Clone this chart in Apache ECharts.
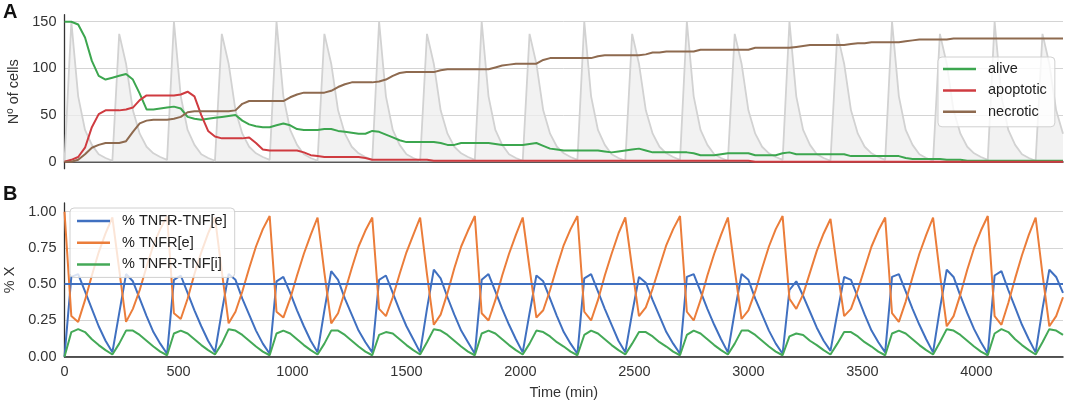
<!DOCTYPE html>
<html>
<head>
    <meta charset="utf-8">
    <title>TNF pulses</title>
    <script src="https://cdn.jsdelivr.net/npm/echarts@6/dist/echarts.min.js"></script>
    <style>
        html, body { margin: 0; padding: 0; background: #fff; }
        #chart { width: 1065px; height: 403px; }
    </style>
</head>
<body>
<div id="chart"></div>
<script type="text/javascript">
// sampling times (min), one row = 450 min
var times = [
    0, 30, 60, 90, 120, 150, 180, 210, 240, 270, 300, 330, 360, 390, 420,
    450, 480, 510, 540, 570, 600, 630, 660, 690, 720, 750, 780, 810, 840, 870,
    900, 930, 960, 990, 1020, 1050, 1080, 1110, 1140, 1170, 1200, 1230, 1260, 1290, 1320,
    1350, 1380, 1410, 1440, 1470, 1500, 1530, 1560, 1590, 1620, 1650, 1680, 1710, 1740, 1770,
    1800, 1830, 1860, 1890, 1920, 1950, 1980, 2010, 2040, 2070, 2100, 2130, 2160, 2190, 2220,
    2250, 2280, 2310, 2340, 2370, 2400, 2430, 2460, 2490, 2520, 2550, 2580, 2610, 2640, 2670,
    2700, 2730, 2760, 2790, 2820, 2850, 2880, 2910, 2940, 2970, 3000, 3030, 3060, 3090, 3120,
    3150, 3180, 3210, 3240, 3270, 3300, 3330, 3360, 3390, 3420, 3450, 3480, 3510, 3540, 3570,
    3600, 3630, 3660, 3690, 3720, 3750, 3780, 3810, 3840, 3870, 3900, 3930, 3960, 3990, 4020,
    4050, 4080, 4110, 4140, 4170, 4200, 4230, 4260, 4290, 4320, 4350, 4380
];

// panel A: number of cells
var alive = [
    150, 150, 147, 133, 108, 92, 88, 90, 92, 94, 88, 73, 56, 56, 57,
    58, 59, 57, 48, 46, 45, 46, 47, 48, 49, 50, 44, 40, 38, 37,
    37, 39, 41, 39, 35, 34, 34, 34, 35, 35, 33, 32, 31, 30, 30,
    33, 32, 29, 26, 23, 21, 21, 21, 21, 21, 20, 18, 18, 20, 20,
    20, 20, 20, 19, 18, 18, 18, 18, 19, 20, 17, 14, 13, 12, 12,
    12, 12, 12, 12, 11, 10, 11, 12, 13, 14, 12, 10, 10, 10, 10,
    10, 10, 9, 7, 7, 7, 8, 9, 9, 9, 9, 7, 7, 7, 7,
    9, 10, 8, 8, 8, 8, 8, 8, 8, 8, 6, 6, 6, 6, 6,
    6, 6, 6, 4, 3, 3, 3, 3, 3, 2, 2, 2, 1, 1, 1,
    1, 1, 1, 1, 1, 1, 1, 1, 1, 1, 1, 1
];
var apoptotic = [
    0, 2, 5, 15, 37, 51, 55, 55, 55, 56, 58, 66, 71, 71, 71,
    71, 71, 72, 75, 70, 50, 33, 27, 25, 25, 25, 25, 26, 20, 13,
    12, 12, 12, 12, 12, 10, 7, 6, 5, 5, 5, 5, 5, 5, 4,
    2, 2, 2, 2, 2, 2, 2, 2, 2, 1, 1, 1, 1, 1, 1,
    1, 1, 1, 1, 1, 1, 1, 1, 1, 1, 1, 1, 1, 1, 1,
    1, 1, 1, 1, 1, 1, 1, 1, 1, 1, 1, 1, 1, 1, 1,
    1, 1, 1, 1, 1, 1, 1, 1, 1, 1, 1, 0, 0, 0, 0,
    0, 0, 0, 0, 0, 0, 0, 0, 0, 0, 0, 0, 0, 0, 0,
    0, 0, 0, 0, 0, 0, 0, 0, 0, 0, 0, 0, 0, 0, 0,
    0, 0, 0, 0, 0, 0, 0, 0, 0, 0, 0, 0
];
var necrotic = [
    0, 0, 2, 8, 15, 18, 20, 20, 20, 22, 32, 41, 44, 45, 45,
    45, 46, 48, 53, 54, 54, 54, 54, 54, 54, 55, 62, 65, 65, 65,
    65, 65, 65, 69, 72, 74, 74, 74, 74, 76, 80, 83, 85, 85, 85,
    85, 86, 88, 92, 95, 96, 96, 96, 96, 96, 98, 99, 99, 99, 99,
    99, 99, 99, 101, 103, 104, 105, 105, 105, 105, 109, 111, 111, 111, 111,
    111, 111, 111, 113, 114, 114, 114, 114, 114, 114, 115, 117, 117, 118, 118,
    118, 118, 118, 120, 120, 120, 120, 120, 120, 120, 120, 122, 122, 122, 122,
    122, 122, 123, 124, 125, 125, 125, 125, 125, 125, 126, 127, 127, 128, 128,
    128, 128, 128, 129, 130, 131, 131, 131, 131, 131, 132, 132, 132, 132, 132,
    132, 132, 132, 132, 132, 132, 132, 132, 132, 132, 132, 132
];
// grey TNF pulses drawn behind panel A (scaled to the cell axis)
var tnfPulse = [
    0, 150, 70, 34, 18, 8, 4, 1, 137, 105, 55, 30, 16, 9, 5,
    2, 150, 70, 34, 18, 8, 4, 1, 137, 105, 55, 30, 16, 9, 5,
    2, 150, 70, 34, 18, 8, 4, 1, 137, 105, 55, 30, 16, 9, 5,
    2, 150, 70, 34, 18, 8, 4, 1, 137, 105, 55, 30, 16, 9, 5,
    2, 150, 70, 34, 18, 8, 4, 1, 137, 105, 55, 30, 16, 9, 5,
    2, 150, 70, 34, 18, 8, 4, 1, 137, 105, 55, 30, 16, 9, 5,
    2, 150, 70, 34, 18, 8, 4, 1, 137, 105, 55, 30, 16, 9, 5,
    2, 150, 70, 34, 18, 8, 4, 1, 137, 105, 55, 30, 16, 9, 5,
    2, 150, 70, 34, 18, 8, 4, 1, 137, 105, 55, 30, 16, 9, 5,
    2, 150, 70, 34, 18, 8, 4, 1, 137, 105, 55, 30
];

// panel B: receptor fractions
var boundExt = [
    0.00, 0.55, 0.57, 0.45, 0.33, 0.21, 0.11, 0.03, 0.30, 0.57, 0.52, 0.40, 0.28, 0.17, 0.09,
    0.02, 0.53, 0.56, 0.44, 0.32, 0.21, 0.11, 0.03, 0.31, 0.57, 0.53, 0.40, 0.29, 0.18, 0.09,
    0.02, 0.52, 0.55, 0.44, 0.32, 0.21, 0.11, 0.03, 0.32, 0.59, 0.53, 0.40, 0.29, 0.18, 0.10,
    0.03, 0.53, 0.56, 0.44, 0.32, 0.21, 0.12, 0.03, 0.33, 0.60, 0.54, 0.41, 0.29, 0.18, 0.10,
    0.02, 0.53, 0.57, 0.45, 0.33, 0.22, 0.12, 0.03, 0.30, 0.56, 0.52, 0.40, 0.28, 0.17, 0.09,
    0.02, 0.54, 0.57, 0.45, 0.33, 0.22, 0.11, 0.03, 0.30, 0.55, 0.51, 0.39, 0.28, 0.17, 0.09,
    0.02, 0.55, 0.57, 0.45, 0.33, 0.22, 0.12, 0.03, 0.31, 0.57, 0.53, 0.40, 0.29, 0.18, 0.09,
    0.02, 0.46, 0.52, 0.42, 0.31, 0.20, 0.11, 0.04, 0.30, 0.55, 0.53, 0.41, 0.29, 0.18, 0.10,
    0.03, 0.55, 0.57, 0.45, 0.33, 0.22, 0.12, 0.03, 0.33, 0.60, 0.55, 0.42, 0.30, 0.19, 0.10,
    0.02, 0.56, 0.59, 0.46, 0.34, 0.22, 0.12, 0.03, 0.33, 0.60, 0.55, 0.44
];
var freeExt = [
    1.00, 0.28, 0.24, 0.39, 0.56, 0.72, 0.85, 0.96, 0.60, 0.24, 0.33, 0.46, 0.62, 0.77, 0.88,
    0.97, 0.30, 0.26, 0.40, 0.57, 0.72, 0.85, 0.96, 0.59, 0.23, 0.31, 0.45, 0.61, 0.76, 0.88,
    0.97, 0.31, 0.27, 0.40, 0.56, 0.71, 0.84, 0.96, 0.58, 0.23, 0.30, 0.45, 0.61, 0.76, 0.87,
    0.96, 0.33, 0.28, 0.41, 0.57, 0.72, 0.84, 0.96, 0.57, 0.22, 0.29, 0.44, 0.61, 0.76, 0.87,
    0.97, 0.30, 0.25, 0.39, 0.56, 0.71, 0.84, 0.96, 0.61, 0.27, 0.32, 0.46, 0.62, 0.77, 0.88,
    0.97, 0.31, 0.25, 0.39, 0.56, 0.71, 0.85, 0.96, 0.61, 0.28, 0.34, 0.47, 0.62, 0.77, 0.88,
    0.97, 0.31, 0.25, 0.39, 0.56, 0.71, 0.84, 0.96, 0.60, 0.26, 0.32, 0.45, 0.61, 0.76, 0.88,
    0.97, 0.40, 0.33, 0.43, 0.58, 0.73, 0.85, 0.95, 0.60, 0.28, 0.33, 0.46, 0.61, 0.76, 0.87,
    0.96, 0.30, 0.24, 0.38, 0.55, 0.71, 0.84, 0.96, 0.57, 0.21, 0.28, 0.43, 0.60, 0.75, 0.87,
    0.97, 0.28, 0.22, 0.37, 0.54, 0.70, 0.84, 0.96, 0.57, 0.21, 0.28, 0.41
];
var boundInt = [
    0.00, 0.17, 0.19, 0.17, 0.12, 0.08, 0.045, 0.015, 0.09, 0.18, 0.18, 0.15, 0.11, 0.07, 0.035,
    0.01, 0.16, 0.18, 0.16, 0.12, 0.08, 0.045, 0.015, 0.09, 0.19, 0.18, 0.15, 0.11, 0.07, 0.035,
    0.01, 0.16, 0.18, 0.16, 0.12, 0.08, 0.045, 0.015, 0.09, 0.18, 0.18, 0.15, 0.11, 0.07, 0.035,
    0.01, 0.15, 0.17, 0.16, 0.12, 0.08, 0.045, 0.015, 0.10, 0.19, 0.18, 0.15, 0.11, 0.07, 0.035,
    0.01, 0.16, 0.18, 0.16, 0.12, 0.08, 0.045, 0.015, 0.09, 0.18, 0.17, 0.14, 0.10, 0.07, 0.035,
    0.01, 0.15, 0.18, 0.16, 0.12, 0.08, 0.045, 0.015, 0.09, 0.17, 0.17, 0.14, 0.10, 0.07, 0.035,
    0.01, 0.15, 0.18, 0.16, 0.12, 0.08, 0.045, 0.015, 0.09, 0.18, 0.18, 0.15, 0.11, 0.07, 0.035,
    0.01, 0.14, 0.16, 0.15, 0.11, 0.08, 0.045, 0.015, 0.09, 0.17, 0.17, 0.14, 0.10, 0.07, 0.035,
    0.01, 0.16, 0.18, 0.16, 0.12, 0.08, 0.045, 0.015, 0.10, 0.19, 0.18, 0.15, 0.11, 0.07, 0.035,
    0.01, 0.16, 0.19, 0.17, 0.12, 0.08, 0.045, 0.015, 0.10, 0.19, 0.18, 0.15
];
var threshold = 0.5;

var cellTicks = [0, 50, 100, 150];
var fracTicks = [0, 0.25, 0.5, 0.75, 1.0];

function pairs(arr) {
    return times.map(function (t, i) { return [t, arr[i]]; });
}

var font = 'Liberation Sans, Arial, sans-serif';
var tickText = { fontSize: 14.5, color: '#333', fontFamily: font };

var chart = echarts.init(document.getElementById('chart'));
chart.setOption({
    animation: false,
    backgroundColor: '#fff',
    title: [
        { text: 'A', left: 3, top: 2, padding: 0, textStyle: { fontSize: 20, fontWeight: 'bold', color: '#111', fontFamily: font } },
        { text: 'B', left: 3, top: 184, padding: 0, textStyle: { fontSize: 20, fontWeight: 'bold', color: '#111', fontFamily: font } }
    ],
    grid: [
        { left: 64.5, top: 14.7, width: 998.5, height: 154, outerBoundsMode: 'none' },
        { left: 64.5, top: 203, width: 998.5, height: 153.7, outerBoundsMode: 'none' }
    ],
    legend: [
        {
            data: ['alive', 'apoptotic', 'necrotic'],
            orient: 'vertical', left: 938, top: 57,
            icon: 'rect', itemWidth: 33, itemHeight: 2.5, itemGap: 5.4,
            padding: [4, 8, 7, 5],
            backgroundColor: 'rgba(255,255,255,0.8)',
            borderColor: '#d0d0d0', borderWidth: 1, borderRadius: 4,
            textStyle: { fontSize: 14.5, color: '#222', fontFamily: font, lineHeight: 16, padding: [0, 0, 0, 7] }
        },
        {
            data: ['% TNFR-TNF[e]', '% TNFR[e]', '% TNFR-TNF[i]'],
            orient: 'vertical', left: 70, top: 208,
            icon: 'rect', itemWidth: 33, itemHeight: 2.5, itemGap: 5.7,
            padding: [5, 8, 5, 7],
            backgroundColor: 'rgba(255,255,255,0.8)',
            borderColor: '#d0d0d0', borderWidth: 1, borderRadius: 4,
            textStyle: { fontSize: 14.5, color: '#222', fontFamily: font, lineHeight: 16, padding: [0, 0, 0, 7] }
        }
    ],
    xAxis: [
        {
            type: 'value', gridIndex: 0, min: 0, max: 4380,
            axisLine: { lineStyle: { color: '#222', width: 1.5 } },
            axisTick: { show: false }, axisLabel: { show: false }, splitLine: { show: false }
        },
        {
            type: 'value', gridIndex: 1, min: 0, max: 4380, interval: 500,
            name: 'Time (min)', nameLocation: 'middle', nameGap: 29,
            nameTextStyle: tickText,
            axisLine: { lineStyle: { color: '#222', width: 1.5 } },
            axisTick: { show: false },
            axisLabel: Object.assign({
                margin: 8, showMaxLabel: false,
                formatter: function (v) { return String(v); }
            }, tickText),
            splitLine: { show: false }
        }
    ],
    yAxis: [
        {
            type: 'value', gridIndex: 0, min: -7.5, max: 157.5,
            name: 'Nº of cells', nameLocation: 'middle', nameGap: 17,
            nameTextStyle: tickText,
            axisLine: { show: true, lineStyle: { color: '#333', width: 1.3 } },
            axisTick: { show: false, customValues: cellTicks },
            axisLabel: Object.assign({
                margin: 8, customValues: cellTicks,
                formatter: function (v) { return String(v); }
            }, tickText),
            splitLine: { show: true, lineStyle: { color: '#d4d4d4', width: 1 } }
        },
        {
            type: 'value', gridIndex: 1, min: 0, max: 1.06,
            name: '% X', nameLocation: 'middle', nameGap: 17,
            nameTextStyle: tickText,
            axisLine: { show: true, lineStyle: { color: '#333', width: 1.3 } },
            axisTick: { show: false, customValues: fracTicks },
            axisLabel: Object.assign({
                margin: 8, customValues: fracTicks,
                formatter: function (v) { return v.toFixed(2); }
            }, tickText),
            splitLine: { show: true, lineStyle: { color: '#d4d4d4', width: 1 } }
        }
    ],
    series: [
        {
            name: 'TNF', type: 'line', xAxisIndex: 0, yAxisIndex: 0,
            data: pairs(tnfPulse), showSymbol: false, silent: true, z: 1,
            lineStyle: { color: '#d2d2d2', width: 1.8 },
            areaStyle: { color: '#ededed', opacity: 0.75 }
        },
        {
            name: 'alive', type: 'line', xAxisIndex: 0, yAxisIndex: 0,
            data: pairs(alive), showSymbol: false, color: '#3ca64f',
            lineStyle: { width: 2 }
        },
        {
            name: 'apoptotic', type: 'line', xAxisIndex: 0, yAxisIndex: 0,
            data: pairs(apoptotic), showSymbol: false, color: '#cf3b40',
            lineStyle: { width: 2 }
        },
        {
            name: 'necrotic', type: 'line', xAxisIndex: 0, yAxisIndex: 0,
            data: pairs(necrotic), showSymbol: false, color: '#8e6a4f',
            lineStyle: { width: 2 }
        },
        {
            name: '% TNFR-TNF[e]', type: 'line', xAxisIndex: 1, yAxisIndex: 1,
            data: pairs(boundExt), showSymbol: false, color: '#4070c0',
            lineStyle: { width: 2 },
            markLine: {
                silent: true, symbol: 'none', label: { show: false },
                lineStyle: { color: '#4070c0', width: 2, type: 'solid' },
                data: [{ yAxis: threshold }]
            }
        },
        {
            name: '% TNFR[e]', type: 'line', xAxisIndex: 1, yAxisIndex: 1,
            data: pairs(freeExt), showSymbol: false, color: '#eb7d3a',
            lineStyle: { width: 2 }
        },
        {
            name: '% TNFR-TNF[i]', type: 'line', xAxisIndex: 1, yAxisIndex: 1,
            data: pairs(boundInt), showSymbol: false, color: '#44a957',
            lineStyle: { width: 2 }
        }
    ]
});
</script>
</body>
</html>
